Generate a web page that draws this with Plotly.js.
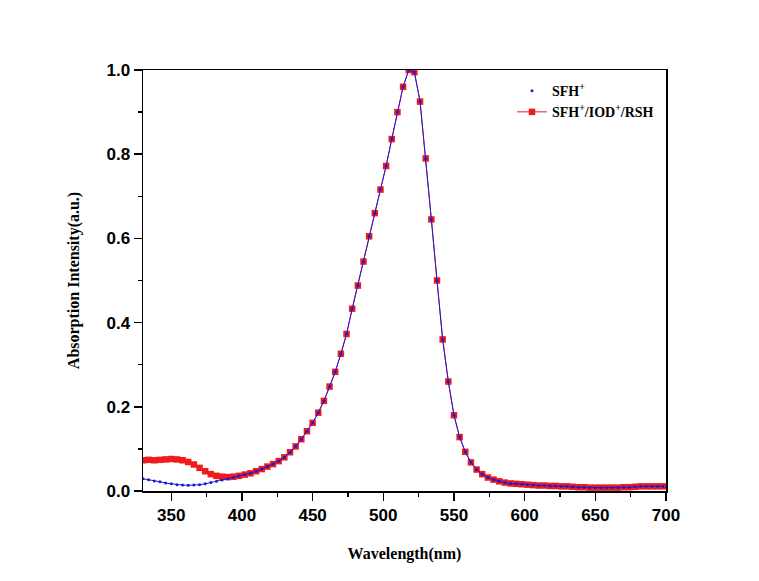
<!DOCTYPE html>
<html>
<head>
<meta charset="utf-8">
<script src="https://cdn.plot.ly/plotly-3.0.1.min.js"></script>
<style>html,body{margin:0;padding:0;background:#fff;}#chart{width:759px;height:581px;}</style>
</head>
<body>
<div id="chart"></div>
<script>
var wavelength = [330,334,338,342,346,350,354,358,362,366,370,374,378,382,386,390,394,398,402,406,410,414,418,422,426,430,434,438,442,446,450,454,458,462,466,470,474,478,482,486,490,494,498,502,506,510,514,518,522,526,530,534,538,542,546,550,554,558,562,566,570,574,578,582,586,590,594,598,602,606,610,614,618,622,626,630,634,638,642,646,650,654,658,662,666,670,674,678,682,686,690,694,698];

var sfhMix = [0.073,0.074,0.073,0.074,0.075,0.076,0.075,0.073,0.069,0.063,0.055,0.047,0.040,0.036,0.034,0.033,0.034,0.036,0.039,0.042,0.047,0.052,0.058,0.064,0.071,0.080,0.092,0.106,0.123,0.142,0.162,0.186,0.214,0.248,0.283,0.326,0.373,0.433,0.488,0.545,0.605,0.660,0.716,0.772,0.836,0.900,0.960,1.000,0.995,0.925,0.790,0.645,0.500,0.360,0.260,0.180,0.128,0.093,0.068,0.051,0.040,0.032,0.027,0.023,0.020,0.018,0.017,0.016,0.015,0.014,0.013,0.013,0.012,0.012,0.011,0.011,0.010,0.009,0.009,0.008,0.008,0.008,0.008,0.008,0.008,0.009,0.009,0.010,0.011,0.011,0.011,0.011,0.011];

var sfh = [0.029,0.027,0.024,0.022,0.019,0.017,0.015,0.014,0.0135,0.014,0.015,0.017,0.020,0.023,0.026,0.029,0.032,0.036,0.039,0.042,0.047,0.052,0.058,0.064,0.071,0.080,0.092,0.106,0.123,0.142,0.162,0.186,0.214,0.248,0.283,0.326,0.373,0.433,0.488,0.545,0.605,0.660,0.716,0.772,0.836,0.900,0.960,1.000,0.995,0.925,0.790,0.645,0.500,0.360,0.260,0.180,0.128,0.093,0.068,0.051,0.040,0.032,0.027,0.023,0.020,0.018,0.017,0.016,0.015,0.014,0.013,0.013,0.012,0.012,0.011,0.011,0.010,0.009,0.009,0.008,0.008,0.008,0.008,0.008,0.008,0.009,0.009,0.010,0.011,0.011,0.011,0.011,0.011];

var seriesNames = ['SFH<sup>+</sup>', 'SFH<sup>+</sup>/IOD<sup>+</sup>/RSH'];
var xTickVals = [350,400,450,500,550,600,650,700];
var yTickVals = [0.0,0.2,0.4,0.6,0.8,1.0];

var RED = '#ee1c1c';
var BLUE = '#1a1ad6';

var traces = [
  {x: wavelength, y: sfhMix, type: 'scatter', mode: 'lines+markers', name: seriesNames[1],
   line: {color: RED, width: 1}, marker: {symbol: 'square', size: 6.5, color: RED}},
  {x: wavelength, y: sfh, type: 'scatter', mode: 'lines', showlegend: false, hoverinfo: 'skip',
   line: {color: BLUE, width: 1}},
  {x: wavelength, y: sfh, type: 'scatter', mode: 'markers', name: seriesNames[0],
   marker: {symbol: 'circle', size: 3, color: BLUE}}
];

var tickFont = {family: 'Liberation Sans, Arial, sans-serif', size: 17, color: '#000', weight: 'bold'};
var titleFont = {family: 'Liberation Serif, Times New Roman, serif', size: 16, color: '#000', weight: 'bold'};

var layout = {
  width: 759, height: 581,
  margin: {l: 143, r: 93, t: 70, b: 90, pad: 0},
  paper_bgcolor: '#fff', plot_bgcolor: '#fff',
  showlegend: true,
  legend: {x: 0.7055, y: 0.988, xanchor: 'left', yanchor: 'top', traceorder: 'reversed',
           bgcolor: 'rgba(0,0,0,0)', borderwidth: 0, tracegroupgap: 0,
           font: {family: 'Liberation Serif, Times New Roman, serif', size: 14, color: '#000', weight: 'bold'}},
  xaxis: {range: [330, 700], tickvals: xTickVals, ticktext: xTickVals.map(String),
          showline: true, mirror: true, linecolor: '#000', linewidth: 1.5,
          ticks: 'outside', ticklen: 8, tickwidth: 1.5, tickcolor: '#000',
          minor: {ticks: 'outside', ticklen: 4, tickwidth: 1.5, tickcolor: '#000', dtick: 25, tick0: 325},
          showgrid: false, zeroline: false, tickfont: tickFont,
          title: {text: 'Wavelength(nm)', font: titleFont, standoff: 24}},
  yaxis: {range: [0, 1.0], tickvals: yTickVals, ticktext: yTickVals.map(function(v){return v.toFixed(1);}),
          showline: true, mirror: true, linecolor: '#000', linewidth: 1.5,
          ticks: 'outside', ticklen: 8, tickwidth: 1.5, tickcolor: '#000',
          minor: {ticks: 'outside', ticklen: 4, tickwidth: 1.5, tickcolor: '#000', dtick: 0.1, tick0: 0},
          showgrid: false, zeroline: false, tickfont: tickFont,
          title: {text: 'Absorption Intensity(a.u.)', font: titleFont, standoff: 23}}
};

Plotly.newPlot('chart', traces, layout, {displayModeBar: false, staticPlot: true});
</script>
</body>
</html>
